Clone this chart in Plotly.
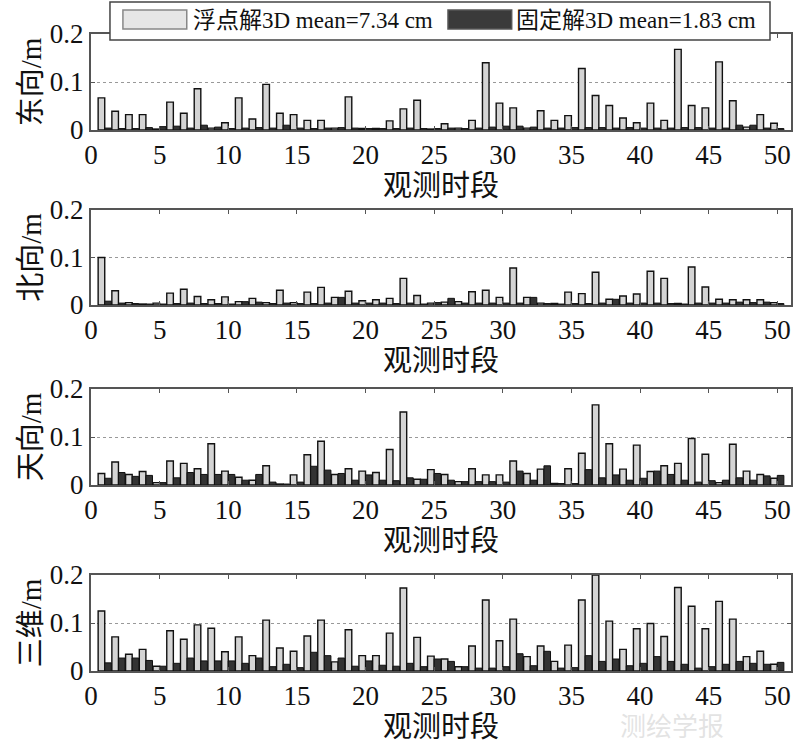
import plotly.graph_objects as go

periods = list(range(1, 51))

east_float = [0.067, 0.039, 0.032, 0.032, 0.002, 0.058, 0.035, 0.086, 0.004, 0.015,
              0.067, 0.023, 0.095, 0.035, 0.032, 0.020, 0.020, 0.004, 0.069, 0.003,
              0.003, 0.019, 0.044, 0.062, 0.002, 0.013, 0.004, 0.020, 0.140, 0.056,
              0.046, 0.004, 0.040, 0.020, 0.030, 0.128, 0.072, 0.051, 0.025, 0.015,
              0.056, 0.020, 0.168, 0.051, 0.046, 0.142, 0.061, 0.006, 0.032, 0.014]
east_fixed = [0.004, 0.003, 0.003, 0.005, 0.007, 0.008, 0.004, 0.010, 0.006, 0.003,
              0.004, 0.005, 0.004, 0.010, 0.004, 0.003, 0.004, 0.005, 0.004, 0.003,
              0.003, 0.003, 0.004, 0.003, 0.003, 0.004, 0.003, 0.004, 0.006, 0.008,
              0.008, 0.006, 0.004, 0.004, 0.005, 0.005, 0.005, 0.004, 0.005, 0.004,
              0.004, 0.004, 0.005, 0.005, 0.004, 0.004, 0.010, 0.010, 0.004, 0.003]

north_float = [0.100, 0.030, 0.005, 0.002, 0.004, 0.025, 0.033, 0.018, 0.011, 0.017,
               0.007, 0.014, 0.005, 0.031, 0.005, 0.027, 0.037, 0.016, 0.029, 0.009,
               0.011, 0.014, 0.056, 0.020, 0.004, 0.006, 0.007, 0.028, 0.031, 0.016,
               0.078, 0.016, 0.004, 0.003, 0.027, 0.024, 0.069, 0.012, 0.019, 0.023,
               0.071, 0.056, 0.003, 0.080, 0.038, 0.012, 0.011, 0.011, 0.011, 0.005]
north_fixed = [0.008, 0.004, 0.003, 0.002, 0.002, 0.003, 0.004, 0.003, 0.003, 0.002,
               0.007, 0.006, 0.003, 0.004, 0.003, 0.003, 0.004, 0.016, 0.004, 0.004,
               0.004, 0.003, 0.004, 0.002, 0.005, 0.014, 0.004, 0.004, 0.004, 0.004,
               0.004, 0.016, 0.003, 0.002, 0.003, 0.003, 0.004, 0.012, 0.004, 0.004,
               0.004, 0.003, 0.002, 0.004, 0.004, 0.004, 0.006, 0.005, 0.006, 0.003]

up_float = [0.024, 0.048, 0.022, 0.028, 0.005, 0.050, 0.045, 0.034, 0.086, 0.029,
            0.016, 0.010, 0.040, 0.002, 0.021, 0.063, 0.091, 0.022, 0.034, 0.029,
            0.026, 0.074, 0.152, 0.012, 0.032, 0.022, 0.007, 0.034, 0.021, 0.021,
            0.050, 0.024, 0.033, 0.003, 0.034, 0.066, 0.167, 0.086, 0.033, 0.083,
            0.028, 0.040, 0.045, 0.097, 0.064, 0.005, 0.085, 0.029, 0.022, 0.014]
up_fixed = [0.014, 0.026, 0.018, 0.020, 0.005, 0.015, 0.026, 0.022, 0.022, 0.022,
            0.010, 0.022, 0.006, 0.002, 0.006, 0.039, 0.031, 0.024, 0.010, 0.021,
            0.010, 0.009, 0.015, 0.012, 0.024, 0.010, 0.007, 0.007, 0.007, 0.006,
            0.029, 0.010, 0.040, 0.003, 0.003, 0.032, 0.015, 0.021, 0.010, 0.014,
            0.029, 0.022, 0.010, 0.006, 0.009, 0.010, 0.015, 0.010, 0.019, 0.020]

d3_float = [0.125, 0.071, 0.035, 0.045, 0.010, 0.084, 0.066, 0.096, 0.089, 0.040,
            0.071, 0.032, 0.106, 0.048, 0.041, 0.073, 0.106, 0.019, 0.086, 0.032,
            0.032, 0.079, 0.173, 0.070, 0.031, 0.025, 0.009, 0.052, 0.148, 0.063,
            0.108, 0.030, 0.052, 0.020, 0.054, 0.148, 0.200, 0.104, 0.045, 0.088,
            0.099, 0.072, 0.174, 0.135, 0.088, 0.145, 0.108, 0.030, 0.041, 0.014]
d3_fixed = [0.017, 0.027, 0.027, 0.022, 0.010, 0.016, 0.027, 0.021, 0.021, 0.021,
            0.016, 0.027, 0.009, 0.014, 0.007, 0.039, 0.032, 0.027, 0.010, 0.021,
            0.012, 0.010, 0.016, 0.009, 0.025, 0.020, 0.009, 0.006, 0.006, 0.009,
            0.036, 0.011, 0.041, 0.006, 0.007, 0.032, 0.020, 0.025, 0.011, 0.016,
            0.030, 0.020, 0.014, 0.006, 0.009, 0.014, 0.020, 0.016, 0.014, 0.018]

panels = [
    ("东向/m", east_float, east_fixed),
    ("北向/m", north_float, north_fixed),
    ("天向/m", up_float, up_fixed),
    ("三维/m", d3_float, d3_fixed),
]
legend_names = ["浮点解3D mean=7.34 cm", "固定解3D mean=1.83 cm"]
x_title = "观测时段"
x_ticks = list(range(0, 51, 5))
y_ticks = [0, 0.1, 0.2]
y_tick_text = ["0", "0.1", "0.2"]
watermark = "测绘学报"

FONT = "Liberation Serif, Noto Sans CJK SC, serif"
FLOAT_COLOR = "#d4d4d4"
FIXED_COLOR = "#333333"

# paper-space domains for the four panels (top to bottom)
domains = [[0.8493, 1.0], [0.5746, 0.7237], [0.292, 0.4427], [0.0, 0.1507]]

fig = go.Figure()
for i, (ytitle, fl, fx) in enumerate(panels):
    n = "" if i == 0 else str(i + 1)
    fig.add_trace(go.Bar(
        x=periods, y=fl, name=legend_names[0], showlegend=False,
        marker=dict(color=FLOAT_COLOR, line=dict(color="#111111", width=1.4)),
        xaxis="x" + n, yaxis="y" + n, offsetgroup="a",
    ))
    fig.add_trace(go.Bar(
        x=periods, y=fx, name=legend_names[1], showlegend=False,
        marker=dict(color=FIXED_COLOR, line=dict(color="#111111", width=1)),
        xaxis="x" + n, yaxis="y" + n, offsetgroup="b",
    ))
    common = dict(showline=True, linecolor="#555555", linewidth=2, mirror="ticks",
                  ticks="inside", ticklen=4, tickcolor="#555555",
                  tickfont=dict(family=FONT, size=27, color="#111111"), zeroline=False)
    fig.layout["xaxis" + n] = dict(
        domain=[0, 1], anchor="y" + n, range=[0, 51],
        tickvals=x_ticks, showgrid=False,
        title=dict(text=x_title, font=dict(family=FONT, size=29, color="#111111"), standoff=2),
        **common)
    fig.layout["yaxis" + n] = dict(
        domain=domains[i], anchor="x" + n, range=[0, 0.2],
        tickvals=y_ticks, ticktext=y_tick_text,
        showgrid=True, gridcolor="#999999", griddash="dot", gridwidth=1,
        title=dict(text=ytitle, font=dict(family=FONT, size=29, color="#111111"), standoff=0),
        **common)

# legend drawn as a boxed strip across the top of the first panel
shapes = [
    dict(type="rect", xref="paper", yref="paper", x0=0.0271, x1=0.970, y0=0.9906, y1=1.0502,
         fillcolor="white", line=dict(color="#444444", width=1.5), layer="above"),
    dict(type="rect", xref="paper", yref="paper", x0=0.0456, x1=0.1368, y0=1.0078, y1=1.0377,
         fillcolor="#e6e6e6", line=dict(color="#888888", width=1.5), layer="above"),
    dict(type="rect", xref="paper", yref="paper", x0=0.510, x1=0.601, y0=1.0078, y1=1.0377,
         fillcolor="#3a3a3a", line=dict(color="#555555", width=1.5), layer="above"),
]
annotations = [
    dict(text=legend_names[0], xref="paper", yref="paper", x=0.1425, y=1.0215,
         xanchor="left", yanchor="middle", showarrow=False,
         font=dict(family=FONT, size=23, color="#111111")),
    dict(text=legend_names[1], xref="paper", yref="paper", x=0.604, y=1.0215,
         xanchor="left", yanchor="middle", showarrow=False,
         font=dict(family=FONT, size=23, color="#111111")),
    dict(text=watermark, xref="paper", yref="paper", x=0.83, y=-0.088,
         xanchor="center", yanchor="middle", showarrow=False,
         font=dict(family=FONT, size=26, color="rgba(200,200,200,0.5)")),
]

fig.update_layout(
    width=800, height=744,
    margin=dict(l=91, r=7, t=34, b=73),
    barmode="group", bargap=0.04, bargroupgap=0.0,
    plot_bgcolor="white", paper_bgcolor="white",
    font=dict(family=FONT, color="#111111"),
    showlegend=False,
    shapes=shapes, annotations=annotations,
)

fig.write_html("out.html", config={"displayModeBar": False},
               post_script="document.body.style.margin='0px';")
